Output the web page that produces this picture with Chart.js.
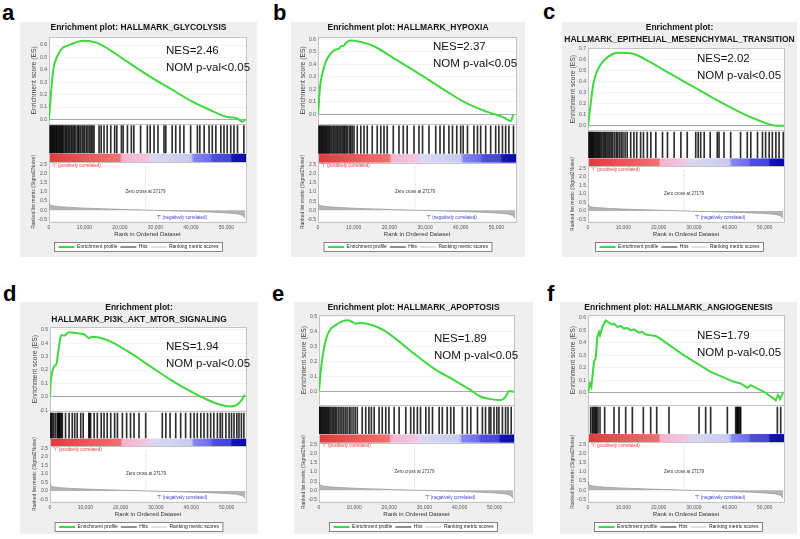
<!DOCTYPE html>
<html><head><meta charset="utf-8">
<script src="https://cdn.jsdelivr.net/npm/chart.js@4.4.1/dist/chart.umd.min.js"></script>
<style>
html,body{margin:0;padding:0;background:#fff;width:800px;height:539px;overflow:hidden;position:relative;font-family:Arial,"Liberation Sans",sans-serif}
.frame{position:absolute;background:#efefef}
.letter{position:absolute;font:bold 22px Arial,"Liberation Sans",sans-serif;line-height:22px;color:#000}
canvas{position:absolute}
</style></head><body>
<script>
// ---------- shared data ----------
const xTicks = [0, 10000, 20000, 30000, 40000, 50000];
const xMax = 55500;
const metricTicks = [-0.5, 0.0, 0.5, 1.0, 1.5, 2.0, 2.5];
const metricRanks = [0, 150, 600, 1500, 3000, 6000, 10000, 15000, 20000, 25000, 27179, 30000, 35000, 40000, 45000, 50000, 53000, 54500, 55300];
const metricValues = [0.42, 0.31, 0.26, 0.22, 0.19, 0.15, 0.11, 0.075, 0.045, 0.015, 0, -0.015, -0.04, -0.07, -0.1, -0.15, -0.2, -0.28, -0.45];
const zeroCross = 27179;
const panelLetters = ['a', 'b', 'c', 'd', 'e', 'f'];
const panelTitles = [
  'Enrichment plot: HALLMARK_GLYCOLYSIS',
  'Enrichment plot: HALLMARK_HYPOXIA',
  ['Enrichment plot:', 'HALLMARK_EPITHELIAL_MESENCHYMAL_TRANSITION'],
  ['Enrichment plot:', 'HALLMARK_PI3K_AKT_MTOR_SIGNALING'],
  'Enrichment plot: HALLMARK_APOPTOSIS',
  'Enrichment plot: HALLMARK_ANGIOGENESIS'
];
const nesLabels = ['NES=2.46', 'NES=2.37', 'NES=2.02', 'NES=1.94', 'NES=1.89', 'NES=1.79'];
const pValueLabel = 'NOM p-val<0.05';
const legendLabels = ['Enrichment profile', 'Hits', 'Ranking metric scores'];
const posLabel = "'Y' (positively correlated)";
const negLabel = "'T' (negatively correlated)";
const zeroLabel = 'Zero cross at 27179';
const esAxisTitle = 'Enrichment score (ES)';
const metricAxisTitle = 'Ranked list metric (Signal2Noise)';
const xAxisTitle = 'Rank in Ordered Dataset';

// ---------- panel a ----------
const esTicksA = [0.0, 0.1, 0.2, 0.3, 0.4, 0.5, 0.6];
const esRanksA = [0, 480, 1200, 2340, 3750, 5630, 7000, 9400, 12700, 15500, 22000, 28600, 34300, 40000, 45500, 50200, 53000, 54500, 55400];
const esScoresA = [0, 0.18, 0.40, 0.51, 0.575, 0.60, 0.615, 0.635, 0.625, 0.59, 0.466, 0.343, 0.246, 0.15, 0.074, 0.019, 0.008, -0.019, 0.0];
const hitsA = [300, 550, 800, 1000, 1250, 1500, 1700, 2000, 2200, 2500, 2800, 3000, 3300, 3600, 3800, 4100, 4500, 4800, 5100, 5500, 5800, 6200, 6500, 6900, 7200, 7600, 8100, 8400, 8800, 9300, 9700, 10100, 10600, 11000, 11500, 11900, 12300, 12700, 14100, 14700, 15500, 16400, 17400, 18500, 19100, 20400, 20900, 22100, 23200, 23900, 25800, 27700, 28500, 29600, 30700, 32400, 32900, 34700, 35700, 36900, 38000, 39900, 41800, 42500, 43700, 45100, 46000, 47000, 48400, 49300, 50200, 51200, 52100, 53100, 54900];

// ---------- panel b ----------
const esTicksB = [0.0, 0.1, 0.2, 0.3, 0.4, 0.5, 0.6];
const esRanksB = [0, 200, 560, 1215, 2150, 3550, 4950, 5890, 6360, 7300, 7760, 9160, 11960, 15230, 22240, 29710, 36260, 41860, 47470, 52140, 54010, 54760];
const esScoresB = [0, 0.07, 0.22, 0.326, 0.42, 0.486, 0.52, 0.526, 0.544, 0.552, 0.571, 0.592, 0.58, 0.552, 0.432, 0.30, 0.18, 0.086, 0.02, -0.026, -0.053, 0.0];
const hitsB = [280, 500, 800, 1100, 1300, 1600, 1900, 2200, 2500, 2800, 3100, 3400, 3800, 4200, 4500, 4900, 5300, 5600, 6000, 6400, 6800, 7200, 7500, 7900, 8300, 8800, 9200, 9600, 10100, 11000, 12000, 12900, 13800, 15200, 16600, 17600, 18500, 19400, 21100, 22700, 23900, 25000, 26900, 28300, 29300, 31100, 33000, 34200, 35300, 36700, 37700, 38900, 40000, 40700, 41900, 43700, 44700, 45600, 47000, 48400, 49800, 50700, 51700, 52600, 53500, 54800];

// ---------- panel c ----------
const esTicksC = [0.0, 0.1, 0.2, 0.3, 0.4, 0.5, 0.6, 0.7];
const esRanksC = [0, 755, 1510, 2640, 4060, 5475, 7360, 8300, 11140, 13030, 17750, 23410, 30020, 36630, 43240, 48900, 52680, 55500];
const esScoresC = [0, 0.2, 0.38, 0.50, 0.575, 0.62, 0.655, 0.663, 0.66, 0.65, 0.575, 0.47, 0.35, 0.23, 0.12, 0.042, 0.003, 0.0];
const hitsC = [280, 500, 750, 1000, 1200, 1500, 1700, 2000, 2300, 2600, 2900, 3200, 3500, 3900, 4300, 4700, 5000, 5400, 5800, 6200, 6600, 7000, 7500, 8000, 8400, 8900, 9400, 9900, 10500, 11100, 12100, 13000, 13800, 14900, 15700, 16800, 17800, 19200, 21100, 22500, 24400, 26300, 28100, 30500, 31200, 31900, 32900, 34600, 36600, 37100, 38500, 40400, 43200, 45100, 46100, 48000, 49400, 50300, 51300, 52200, 53200, 54100, 55300];

// ---------- panel d ----------
const esTicksD = [-0.1, 0.0, 0.1, 0.2, 0.3, 0.4, 0.5];
const esRanksD = [0, 150, 380, 1130, 1890, 2270, 3020, 3490, 3960, 5380, 7740, 9630, 11040, 11990, 13880, 17180, 22840, 28510, 34170, 39830, 44550, 48330, 51160, 52580, 53990, 55120];
const esScoresD = [0, 0.1, 0.15, 0.226, 0.25, 0.326, 0.45, 0.463, 0.457, 0.483, 0.475, 0.468, 0.438, 0.45, 0.443, 0.413, 0.326, 0.226, 0.127, 0.04, -0.022, -0.06, -0.072, -0.065, -0.035, 0.015];
const hitsD = [100, 400, 700, 1100, 1600, 2100, 2300, 2500, 2700, 2900, 3200, 3500, 4400, 5400, 6300, 7000, 7700, 8700, 9400, 11000, 11200, 11500, 12500, 13400, 14500, 15300, 16200, 17200, 18300, 19100, 20500, 21700, 22800, 23800, 25200, 27100, 31800, 32800, 34000, 35600, 37000, 38400, 39800, 40800, 41700, 42700, 43600, 44600, 45500, 46400, 47400, 48200, 48800, 49800, 50700, 51400, 52100, 52900, 53500, 54200, 54900];

// ---------- panel e ----------
const esTicksE = [0.0, 0.1, 0.2, 0.3, 0.4, 0.5];
const esRanksE = [0, 470, 1230, 2180, 3320, 4740, 6170, 8070, 9490, 10440, 11860, 15180, 18500, 22300, 27040, 32730, 38420, 43170, 46010, 48860, 51700, 53130, 54080, 55500];
const esScoresE = [0, 0.133, 0.267, 0.367, 0.42, 0.445, 0.467, 0.478, 0.467, 0.455, 0.46, 0.445, 0.41, 0.345, 0.255, 0.155, 0.078, 0.011, -0.033, -0.049, -0.056, -0.033, 0.005, 0.0];
const hitsE = [100, 350, 600, 900, 1200, 1500, 1800, 2100, 2400, 2700, 3000, 3400, 3800, 4200, 4600, 5000, 5500, 6000, 6500, 7000, 7500, 8000, 8600, 9100, 9700, 10300, 10900, 12300, 13300, 14200, 14900, 15700, 17100, 18000, 19000, 19900, 21400, 22800, 24700, 26100, 27000, 28000, 28900, 30400, 31300, 32300, 34200, 35100, 36500, 37500, 38400, 40800, 42200, 43200, 45100, 46500, 47400, 48400, 48900, 49800, 50600, 51200, 52200, 53100, 53800, 54700];

// ---------- panel f ----------
const esTicksF = [0.0, 0.1, 0.2, 0.3, 0.4, 0.5, 0.6];
const esRanksF = [0, 566, 944, 1700, 2170, 2640, 3120, 3400, 4060, 5000, 5950, 6890, 7360, 8300, 9250, 10190, 11140, 12080, 13030, 14440, 15390, 16330, 17750, 19160, 20100, 27180, 34730, 41340, 43240, 45120, 46070, 49830, 53150, 53810, 54380, 55320];
const esScoresF = [0, 0.075, 0.048, 0.248, 0.275, 0.448, 0.488, 0.461, 0.528, 0.581, 0.563, 0.547, 0.555, 0.528, 0.536, 0.515, 0.52, 0.501, 0.509, 0.483, 0.488, 0.467, 0.461, 0.456, 0.44, 0.30, 0.168, 0.088, 0.075, 0.04, 0.061, 0.008, -0.059, -0.019, -0.051, 0.008];
const hitsF = [750, 1230, 1510, 1890, 2170, 2450, 2830, 3400, 4720, 7360, 8780, 10670, 12560, 15670, 17750, 19450, 22940, 31440, 33320, 34730, 39460, 41820, 42100, 42300, 42500, 42760, 43050, 43240, 53620, 54570];

// ---------- styles ----------
const stripStops  = [0, 0.36, 0.37, 0.5, 0.52, 0.72, 0.735, 0.82, 0.83, 0.92, 0.93, 1];
const stripColors = ['#e03a3e', '#f07272', '#f4b4cf', '#f1c6df', '#d9d9f3', '#cacaf1', '#8686f0', '#6c6ce8', '#4f4fdc', '#4545d6', '#1414b8', '#0a0aa8'];
const esColor = '#3fd83f';
const legendColors = [esColor, '#222222', '#c4c4c4'];
const legendWidths = [2, 1.2, 1.2];

const layouts = [
  {fx:20, fy:22, fw:237, fh:235, left:49, right:246, top:37, esB:124, hitsB:162.5, bottom:222, esMin:-0.035, esMax:0.665, lx:2, ly:2.4, nesX:166, nesY:51, smooth:true},
  {fx:291, fy:22, fw:234, fh:235, left:318, right:516, top:37, esB:124, hitsB:163, bottom:222, esMin:-0.075, esMax:0.62, lx:273, ly:2, nesX:433, nesY:47, smooth:true},
  {fx:562, fy:22, fw:235, fh:235, left:588, right:784, top:48, esB:130.5, hitsB:166.7, bottom:222, esMin:-0.04, esMax:0.705, lx:543, ly:1.4, nesX:697, nesY:59, smooth:true},
  {fx:20, fy:302, fw:238, fh:232, left:50, right:246, top:327, esB:411.5, hitsB:446.7, bottom:502, esMin:-0.108, esMax:0.522, lx:3, ly:283, nesX:166, nesY:347, smooth:true},
  {fx:294, fy:302, fw:239, fh:232, left:319, right:514, top:315, esB:405.5, hitsB:443, bottom:502, esMin:-0.09, esMax:0.513, lx:272, ly:283, nesX:434, nesY:339, smooth:true},
  {fx:560, fy:302, fw:237, fh:232, left:588, right:784, top:315, esB:405.5, hitsB:442.5, bottom:502, esMin:-0.1, esMax:0.624, lx:547, ly:283, nesX:697, nesY:336, smooth:false}
];
const panelData = [
  [esRanksA, esScoresA, hitsA, esTicksA],
  [esRanksB, esScoresB, hitsB, esTicksB],
  [esRanksC, esScoresC, hitsC, esTicksC],
  [esRanksD, esScoresD, hitsD, esTicksD],
  [esRanksE, esScoresE, hitsE, esTicksE],
  [esRanksF, esScoresF, hitsF, esTicksF]
];

Chart.defaults.font.family = 'Arial, "Liberation Sans", sans-serif';
const STRIP_TOP = 0.22, HIT_LO = 0.24, HIT_HI = 0.95;

const gseaPlugin = {
  id: 'gsea',
  beforeDraw(chart, args, o) {
    const {ctx, chartArea: ca} = chart;
    ctx.save();
    ctx.fillStyle = '#ffffff';
    ctx.fillRect(ca.left, ca.top, ca.right - ca.left, ca.bottom - ca.top);
    const hb = chart.legend && chart.legend.legendHitBoxes;
    if (hb && hb.length) {
      let l = Infinity, r = -Infinity;
      hb.forEach(b => { l = Math.min(l, b.left); r = Math.max(r, b.left + b.width); });
      const t = hb[0].top, h = hb[0].height;
      ctx.fillStyle = '#ffffff';
      ctx.fillRect(l - 4, t - 2, r - l + 8, h + 4);
      ctx.strokeStyle = '#666';
      ctx.lineWidth = 0.8;
      ctx.strokeRect(l - 4, t - 2, r - l + 8, h + 4);
    }
    ctx.restore();
  },
  beforeDatasetsDraw(chart) {
    const {ctx, chartArea: ca} = chart;
    const yh = chart.scales.yHits, yes = chart.scales.yES;
    ctx.save();
    const yTop = yh.getPixelForValue(STRIP_TOP), yBot = yh.getPixelForValue(0);
    const g = ctx.createLinearGradient(ca.left, 0, ca.right, 0);
    stripStops.forEach((s, i) => g.addColorStop(s, stripColors[i]));
    ctx.fillStyle = g;
    ctx.fillRect(ca.left, yTop, ca.right - ca.left, yBot - yTop);
    ctx.strokeStyle = '#c4c4c4';
    ctx.lineWidth = 1;
    ctx.beginPath();
    ctx.moveTo(ca.left, Math.round(yes.bottom) + 0.5); ctx.lineTo(ca.right, Math.round(yes.bottom) + 0.5);
    ctx.moveTo(ca.left, Math.round(yh.bottom) + 0.5); ctx.lineTo(ca.right, Math.round(yh.bottom) + 0.5);
    ctx.stroke();
    ctx.strokeRect(Math.round(ca.left) + 0.5, Math.round(ca.top) + 0.5, Math.round(ca.right - ca.left), Math.round(ca.bottom - ca.top));
    ctx.restore();
  },
  afterDatasetsDraw(chart, args, o) {
    const {ctx, chartArea: ca} = chart;
    const x = chart.scales.x, ym = chart.scales.yMetric;
    ctx.save();
    ctx.textBaseline = 'middle';
    ctx.font = '4.5px Arial, "Liberation Sans", sans-serif';
    ctx.fillStyle = '#333';
    ctx.textAlign = 'center';
    ctx.fillText(zeroLabel, x.getPixelForValue(zeroCross), ym.getPixelForValue(1.0));
    ctx.fillStyle = '#e03c3c';
    ctx.textAlign = 'left';
    ctx.fillText(posLabel, ca.left + 3, ym.top + 3.5);
    ctx.fillStyle = '#3c3cd0';
    ctx.textAlign = 'right';
    ctx.fillText(negLabel, x.getPixelForValue(44500), ym.getPixelForValue(-0.4));
    ctx.fillStyle = '#111';
    ctx.textAlign = 'left';
    ctx.font = '11.5px Arial, "Liberation Sans", sans-serif';
    ctx.fillText(o.nes, o.nesX, o.nesY);
    ctx.fillText(pValueLabel, o.nesX, o.nesY + 16.5);
    ctx.restore();
  }
};

function makePanel(i) {
  const L = layouts[i];
  const [ranks, scores, hits, esTicks] = panelData[i];
  const title = panelTitles[i];
  const lines = Array.isArray(title) ? title.length : 1;

  const fr = document.createElement('div');
  fr.className = 'frame';
  Object.assign(fr.style, {left: L.fx + 'px', top: L.fy + 'px', width: L.fw + 'px', height: L.fh + 'px'});
  document.body.appendChild(fr);

  const lt = document.createElement('div');
  lt.className = 'letter';
  lt.textContent = panelLetters[i];
  Object.assign(lt.style, {left: L.lx + 'px', top: L.ly + 'px'});
  document.body.appendChild(lt);

  const legendH = 17.5, xAxisH = 20;
  const need = L.bottom - L.fy + xAxisH + legendH;
  const H = Math.ceil(need);
  const cv = document.createElement('canvas');
  cv.width = L.fw; cv.height = H;
  Object.assign(cv.style, {left: L.fx + 'px', top: L.fy + 'px', width: L.fw + 'px', height: H + 'px'});
  document.body.appendChild(cv);

  const axisW = L.left - L.fx;
  const rightW = L.fx + L.fw - L.right;
  const titleLH = 8.5 * 1.35;
  const titlePB = (L.top - L.fy) - 0.25 - lines * titleLH;
  const esH = L.esB - L.top, hitsH = L.hitsB - L.esB, metH = L.bottom - L.hitsB;
  const noGrid = {display: false, drawTicks: false, tickLength: 0};

  new Chart(cv, {
    type: 'line',
    data: {
      datasets: [
        {
          label: legendLabels[0], xAxisID: 'x', yAxisID: 'yES',
          data: ranks.map((r, k) => ({x: r, y: scores[k]})),
          borderColor: esColor, borderWidth: 2, pointRadius: 0, fill: false,
          cubicInterpolationMode: L.smooth ? 'monotone' : 'default', tension: 0, order: 0
        },
        {
          type: 'bar', label: legendLabels[1], xAxisID: 'x', yAxisID: 'yHits',
          data: hits.map(h => ({x: h, y: [HIT_LO, HIT_HI]})),
          backgroundColor: 'rgba(0,0,0,0.82)', borderWidth: 0, barThickness: 1, grouped: false, order: 2
        },
        {
          label: legendLabels[2], xAxisID: 'x', yAxisID: 'yMetric',
          data: metricRanks.map((r, k) => ({x: r, y: metricValues[k]})),
          borderColor: '#9c9c9c', borderWidth: 0.8, backgroundColor: '#b4b4b4', fill: 'origin',
          pointRadius: 0, tension: 0, order: 3
        },
        {
          label: 'zero cross', xAxisID: 'x', yAxisID: 'yMetric',
          data: [{x: zeroCross, y: 2.4}, {x: zeroCross, y: 0}],
          borderColor: '#b8b8b8', borderWidth: 0.7, borderDash: [1, 1.5], pointRadius: 0, fill: false, order: 4
        }
      ]
    },
    options: {
      responsive: false, animation: false, devicePixelRatio: 1,
      layout: {padding: {left: 0, top: 0, right: 0, bottom: H - need}},
      events: [],
      plugins: {
        tooltip: {enabled: false},
        title: {
          display: true, text: title, color: '#151515',
          font: {size: 8.5, weight: 'bold', lineHeight: 1.35},
          padding: {top: 0.25, bottom: titlePB}
        },
        legend: {
          display: true, position: 'bottom',
          labels: {
            usePointStyle: true, pointStyleWidth: 16, padding: 3, color: '#222',
            font: {size: 5},
            generateLabels: () => legendLabels.map((t, k) => ({
              text: t, strokeStyle: legendColors[k], fillStyle: legendColors[k],
              lineWidth: legendWidths[k], pointStyle: 'line', hidden: false, datasetIndex: k, fontColor: '#222'
            }))
          }
        },
        gsea: {nes: nesLabels[i], nesX: L.nesX - L.fx, nesY: L.nesY - L.fy}
      },
      scales: {
        x: {
          type: 'linear', position: 'bottom', min: 0, max: xMax, offset: false,
          afterBuildTicks: s => { s.ticks = xTicks.map(v => ({value: v})); },
          afterFit: s => { s.height = xAxisH; },
          ticks: {font: {size: 5}, color: '#555', padding: 3, maxRotation: 0, autoSkip: false,
                  callback: v => v.toLocaleString('en-US')},
          grid: noGrid,
          border: {display: false},
          title: {display: true, text: xAxisTitle, font: {size: 6}, color: '#333', padding: {top: 0, bottom: 3.4}}
        },
        yES: {
          type: 'linear', position: 'left', stack: 'gsea', stackWeight: esH, weight: 3,
          min: L.esMin, max: L.esMax,
          afterBuildTicks: s => { s.ticks = esTicks.map(v => ({value: v})); },
          afterFit: s => { s.width = axisW; },
          ticks: {font: {size: 5}, color: '#555', padding: 2, autoSkip: false, callback: v => v.toFixed(1)},
          grid: {drawTicks: false, tickLength: 0, lineWidth: 1, color: c => (c.tick && Math.abs(c.tick.value) < 1e-9) ? '#a8a8a8' : '#f3f3f3'},
          border: {display: true, color: '#c4c4c4'},
          title: {display: true, text: esAxisTitle, font: {size: 6.8}, color: '#444', padding: {top: axisW - 19.1, bottom: 0}}
        },
        yHits: {
          type: 'linear', position: 'left', stack: 'gsea', stackWeight: hitsH, weight: 2,
          min: 0, max: 1,
          afterFit: s => { s.width = axisW; },
          ticks: {display: false},
          grid: noGrid,
          border: {display: true, color: '#c4c4c4'}
        },
        yMetric: {
          type: 'linear', position: 'left', stack: 'gsea', stackWeight: metH, weight: 1,
          min: -0.62, max: 2.62,
          afterBuildTicks: s => { s.ticks = metricTicks.map(v => ({value: v})); },
          afterFit: s => { s.width = axisW; },
          ticks: {font: {size: 5}, color: '#555', padding: 2, autoSkip: false, callback: v => v.toFixed(1)},
          grid: noGrid,
          border: {display: true, color: '#c4c4c4'},
          title: {display: true, text: metricAxisTitle, font: {size: 5}, color: '#444', padding: {top: axisW - 18, bottom: 0}}
        },
        yPad: {
          type: 'linear', position: 'right', min: 0, max: 1,
          afterFit: s => { s.width = rightW; },
          ticks: {display: false},
          grid: noGrid,
          border: {display: false}
        }
      }
    },
    plugins: [gseaPlugin]
  });
}

for (let i = 0; i < 6; i++) makePanel(i);
</script>
</body></html>
